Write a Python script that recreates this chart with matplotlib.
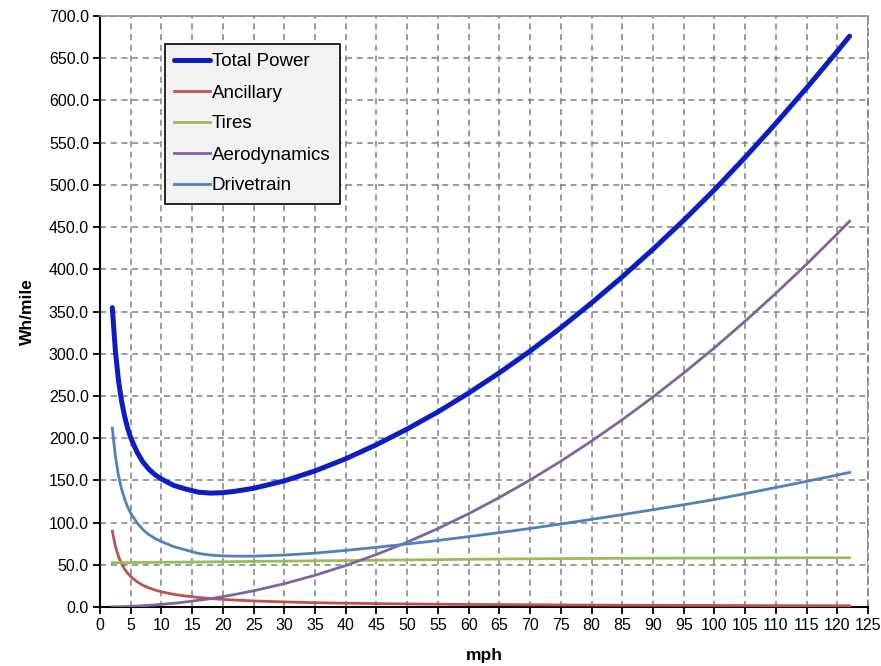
import matplotlib
matplotlib.use("Agg")
import matplotlib.pyplot as plt
from matplotlib.ticker import MultipleLocator, FormatStrFormatter

plt.rcParams['font.family'] = ['Liberation Sans', 'DejaVu Sans']

mph = [2, 2.5, 3, 3.5, 4, 4.5, 5, 6, 7, 8, 9, 10, 12, 14, 16, 18, 20, 22, 25,
       30, 35, 40, 45, 50, 55, 60, 65, 70, 75, 80, 85, 90, 95, 100, 105, 110,
       115, 120, 122]

ancillary = [90, 72, 60, 51.4, 45, 40, 36, 30, 25.7, 22.5, 20, 18, 15, 12.9,
             11.3, 10, 9, 8.2, 7.2, 6, 5.1, 4.5, 4, 3.6, 3.3, 3, 2.8, 2.6, 2.4,
             2.25, 2.1, 2, 1.9, 1.8, 1.7, 1.6, 1.6, 1.5, 1.5]

tires = [52.5, 52.5, 52.5, 52.6, 52.6, 52.6, 52.7, 52.7, 52.8, 52.8, 52.9,
         53.0, 53.1, 53.2, 53.3, 53.5, 53.6, 53.8, 54.0, 54.3, 54.7, 55.0,
         55.4, 55.8, 56.1, 56.5, 56.8, 57.1, 57.3, 57.5, 57.7, 57.8, 57.9,
         58.0, 58.1, 58.2, 58.3, 58.3, 58.3]

aerodynamics = [0.12, 0.19, 0.28, 0.38, 0.49, 0.62, 0.77, 1.1, 1.5, 2.0, 2.5,
                3.1, 4.4, 6.0, 7.9, 9.9, 12.3, 14.9, 19.2, 27.6, 37.6, 49.1,
                62.2, 76.8, 92.9, 110.5, 129.7, 150.4, 172.7, 196.5, 221.8,
                248.7, 277.1, 307.0, 338.5, 371.5, 406.0, 442.1, 456.9]

drivetrain = [212, 179, 156, 140, 128, 118.5, 111, 100, 91.5, 85.5, 81, 77.5,
              71.5, 67.5, 63.5, 61.5, 60.5, 60.2, 60.2, 61.5, 63.8, 67, 70.7,
              74.6, 78.8, 83.4, 88.1, 93, 98.3, 103.8, 109.4, 115.2, 121.1,
              127.3, 134.3, 141.5, 148.8, 156.3, 159.4]

total_power = [354.6, 303.7, 268.8, 244.4, 226.1, 211.7, 200.5, 183.8, 171.5,
               162.8, 156.4, 151.6, 144.0, 139.6, 136.0, 134.9, 135.4, 137.1,
               140.6, 149.4, 161.2, 175.6, 192.3, 210.8, 231.1, 253.4, 277.4,
               303.1, 330.7, 360.1, 391.0, 423.7, 458.0, 494.1, 532.6, 572.8,
               614.7, 658.2, 676.1]

fig = plt.figure(figsize=(8.81, 6.66), dpi=100)
ax = fig.add_axes([100/881, 1-607/666, 768/881, 591/666])

ax.plot(mph, total_power, color='#0A1EC4', lw=3.6, label='Total Power',
        solid_capstyle='round', zorder=5)
ax.plot(mph, ancillary, color='#C0504D', lw=2.0, label='Ancillary', zorder=4)
ax.plot(mph, tires, color='#9BBB59', lw=2.0, label='Tires', zorder=4)
ax.plot(mph, aerodynamics, color='#8064A2', lw=2.0, label='Aerodynamics', zorder=4)
ax.plot(mph, drivetrain, color='#4F81BD', lw=2.0, label='Drivetrain', zorder=4)

ax.set_xlim(0, 125)
ax.set_ylim(0, 700)
ax.xaxis.set_major_locator(MultipleLocator(5))
ax.yaxis.set_major_locator(MultipleLocator(50))
ax.yaxis.set_major_formatter(FormatStrFormatter('%.1f'))

ax.grid(True, color='#808080', linestyle=(0, (4, 3)), lw=1.1)
ax.set_axisbelow(True)

for s in ['left', 'bottom']:
    ax.spines[s].set_color('black')
    ax.spines[s].set_linewidth(1.5)
ax.spines['top'].set_color('#909090')
ax.spines['top'].set_linewidth(1.2)
ax.spines['right'].set_color('#808080')
ax.spines['right'].set_linestyle((0, (4, 3)))
ax.spines['right'].set_linewidth(1.2)

ax.tick_params(axis='both', direction='out', length=5, width=1.3,
               colors='black', labelsize=11.5, pad=3)
ax.tick_params(axis='y', pad=3)

ax.set_xlabel('mph', fontsize=12.5, fontweight='bold', labelpad=11)
ax.set_ylabel('Wh/mile', fontsize=12.5, fontweight='bold', labelpad=10)

leg = ax.legend(loc='upper left', bbox_to_anchor=((165-100)/768, (607-44)/591),
                borderaxespad=0, fancybox=False, frameon=True,
                facecolor='#F2F2F2', edgecolor='black', framealpha=1,
                fontsize=13.5, handlelength=1.9, handletextpad=0.1,
                labelspacing=0.74, borderpad=0.5)
leg.get_frame().set_linewidth(1.2)

fig.savefig('out.png', dpi=100, facecolor='white')
